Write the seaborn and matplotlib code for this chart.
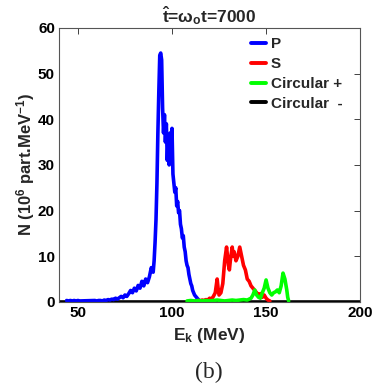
import numpy as np
import pandas as pd
import matplotlib
matplotlib.use("Agg")
import matplotlib.pyplot as plt
import seaborn as sns

# ---------------- data ----------------
p_energy = [44, 45, 46, 47, 48, 49, 50, 51, 52, 58, 59, 60, 61, 62, 63, 64, 65, 66, 67, 68, 69, 70,
            71, 72, 73, 74, 75, 76, 77, 78, 79, 80, 81, 82, 83, 84, 85, 86, 87, 88, 89, 90,
            90.5, 91, 91.5, 92, 92.5, 93, 93.5, 94, 94.5, 95, 95.5, 96, 96.5, 97, 97.5, 98, 98.5,
            99, 99.5, 100, 100.5, 101, 101.5, 102, 102.5, 103, 103.5, 104, 104.5, 105, 105.5,
            106, 106.5, 107, 107.5, 108, 108.5, 109, 109.5, 110, 110.5, 111, 112, 113, 114, 115]
p_counts = [0.3, 0.2, 0.3, 0.2, 0.3, 0.2, 0.3, 0.2, np.nan, np.nan, 0.3, 0.2, 0.3, 0.3, 0.2, 0.4, 0.3, 0.5, 0.4, 0.6, 0.5, 0.8,
            0.6, 0.9, 1.2, 0.9, 1.5, 1.2, 1.8, 2.5, 2.0, 3.0, 2.4, 3.6, 3.0, 4.5, 3.5, 5.0, 4.2, 5.5, 7.5, 6.5,
            9, 13, 18, 26, 37, 46, 54, 54.5, 53, 42.5, 37, 41, 35, 39, 31, 36, 30,
            37, 31, 38, 28, 26, 24, 25, 21, 22, 19.5, 20, 17, 16, 14,
            14.5, 12, 11, 9, 8, 7.5, 6, 5, 4, 3.5, 2.5, 1.5, 1.0, 0.5, 0.2]

s_energy = [113, 114, 115, 116, 117, 118, 119, 120, 121, 122, 123, 124, 124.5, 125, 126, 127, 128,
            129, 129.5, 130, 130.5, 131, 132, 132.5, 133, 134, 135, 136, 137, 138, 139, 140, 141,
            142, 143, 144, 145, 146, 147, 148, 149, 150, 151, 152]
s_counts = [0.2, 0.3, 0.2, 0.4, 0.3, 0.5, 0.4, 0.8, 0.6, 1.2, 2, 5, 3, 1.5, 2, 4, 9,
            12, 10, 8, 7, 9, 12, 10, 11, 9, 10, 12, 10, 8, 7, 5, 4.5,
            3.5, 3, 2.5, 2, 1.5, 1.8, 1, 1.5, 0.8, 0.4, 0.2]

cp_energy = [108, 110, 112, 114, 116, 118, 120, 122, 124, 126, 128, 130, 132, 134, 136, 138, 140,
             141, 142, 143, 144, 145, 146, 147, 148, 149, 150, 151, 152, 153, 154, 155, 156, 157,
             158, 159, 160, 161, 161.5, 162]
cp_counts = [0.2, 0.3, 0.2, 0.3, 0.2, 0.3, 0.2, 0.3, 0.4, 0.3, 0.2, 0.3, 0.4, 0.3, 0.4, 0.5, 0.4,
             0.6, 0.8, 1.5, 2.6, 1.5, 1.0, 0.8, 2.0, 3.0, 4.8, 3.0, 2.0, 1.5, 2.0, 2.2, 2.6, 2.0,
             3.5, 6.3, 5.0, 2.6, 1.0, 0.2]

cm_energy = [40, 200]
cm_counts = [0, 0]

labels = ["P", "S", "Circular +", "Circular  -"]
colors = ["#0000ff", "#ff0000", "#00ff00", "#000000"]
zorders = [3, 3.1, 3.2, 2]

x_ticks = [50, 100, 150, 200]
y_ticks = [0, 10, 20, 30, 40, 50, 60]

# ---------------- styling ----------------
sns.set_style("white")
plt.rcParams["font.family"] = ["Liberation Sans", "DejaVu Sans"]
plt.rcParams["font.weight"] = "bold"
plt.rcParams["mathtext.fontset"] = "custom"
plt.rcParams["mathtext.rm"] = "Liberation Sans:bold"
plt.rcParams["mathtext.bf"] = "Liberation Sans:bold"
plt.rcParams["mathtext.it"] = "Liberation Sans:bold"
plt.rcParams["mathtext.default"] = "bf"

fig = plt.figure(figsize=(3.74, 3.88), dpi=100)
ax = fig.add_axes([0.158, 0.222, 0.805, 0.706])

series = [(p_energy, p_counts), (s_energy, s_counts), (cp_energy, cp_counts), (cm_energy, cm_counts)]
for (xe, yc), lab, col, zo in zip(series, labels, colors, zorders):
    df = pd.DataFrame({"E": xe, "N": yc})
    sns.lineplot(data=df, x="E", y="N", color=col, label=lab, lw=2.6, ax=ax,
                 estimator=None, sort=False, zorder=zo)

ax.set_xlim(40, 200)
ax.set_ylim(0, 60)
ax.set_xticks(x_ticks)
ax.set_yticks(y_ticks)
ax.tick_params(direction="in", length=4, width=0.6, top=True, right=True,
               labelsize=11, pad=3, colors="#222222", labelcolor="black")
for lab in ax.get_xticklabels() + ax.get_yticklabels():
    lab.set_fontweight("bold")
for sp in ax.spines.values():
    sp.set_color("#555555")
    sp.set_linewidth(0.8)
    sp.set_zorder(5)

ax.set_xlabel(r"E$_k$ (MeV)", fontsize=12.5, fontweight="bold", labelpad=4)
ax.set_ylabel(r"N (10$^6$ part.MeV$^{-1}$)", fontsize=12, fontweight="bold", labelpad=1)
ax.set_title(r"$\hat{t}$=$\omega_o$t=7000", fontsize=12.5, fontweight="bold", pad=4)

leg = ax.legend(loc="upper left", bbox_to_anchor=(0.597, 1.01), frameon=False,
                fontsize=11, handlelength=1.0, handletextpad=0.3, labelspacing=0.38,
                borderpad=0.3)
for t in leg.get_texts():
    t.set_fontweight("bold")
for h in leg.get_lines():
    h.set_linewidth(2.8)

fig.text(209 / 374, 1 - 372 / 388, "(b)", ha="center", va="center", fontsize=17,
         family="Liberation Serif", fontweight="normal")

fig.savefig("out.png", dpi=100)
